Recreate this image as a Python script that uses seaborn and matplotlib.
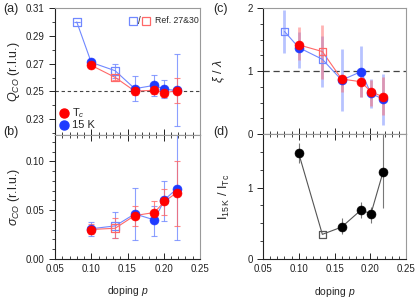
import numpy as np
import pandas as pd
import seaborn as sns
import matplotlib.pyplot as plt
from matplotlib.ticker import MultipleLocator, FixedLocator

# === DATA ===
# doping values (15 K series has an extra reference point at p = 0.08)
p_15k = [0.080, 0.100, 0.133, 0.160, 0.187, 0.201, 0.218]
ref_15k = [True, False, True, False, False, False, False]
p_tc = [0.100, 0.133, 0.160, 0.187, 0.201, 0.218]
ref_tc = [False, True, False, False, False, False]

# (a) Q_CO
q_15k = [0.300, 0.2709, 0.2649, 0.2520, 0.2544, 0.2515, 0.2508]
q_15k_lo = [0.300, 0.2695, 0.2600, 0.2435, 0.2470, 0.2452, 0.2250]
q_15k_hi = [0.300, 0.2723, 0.2694, 0.2610, 0.2618, 0.2580, 0.2767]
q_tc = [0.2688, 0.2601, 0.2503, 0.2508, 0.2491, 0.2505]
q_tc_lo = [0.2676, 0.2582, 0.2478, 0.2484, 0.2460, 0.2416]
q_tc_hi = [0.2700, 0.2620, 0.2528, 0.2532, 0.2520, 0.2594]

# (b) sigma_CO
p_sig_15k = [0.100, 0.133, 0.160, 0.187, 0.201, 0.218]
ref_sig_15k = [False, True, False, False, False, False]
sig_15k = [0.0310, 0.0339, 0.0462, 0.0400, 0.0606, 0.0720]
sig_15k_lo = [0.0236, 0.0212, 0.0195, 0.0236, 0.0393, 0.0195]
sig_15k_hi = [0.0383, 0.0480, 0.0726, 0.0540, 0.0800, 0.1300]
sig_tc = [0.0302, 0.0315, 0.0445, 0.0476, 0.0589, 0.0680]
sig_tc_lo = [0.0260, 0.0212, 0.0342, 0.0365, 0.0450, 0.0342]
sig_tc_hi = [0.0360, 0.0418, 0.0547, 0.0590, 0.0720, 0.0999]

# (c) xi / lambda
xi_15k = [1.628, 1.372, 1.186, 0.856, 0.989, 0.644, 0.553]
xi_15k_lo = [1.28, 1.05, 0.75, 0.37, 0.59, 0.41, 0.15]
xi_15k_hi = [1.97, 1.62, 1.55, 1.35, 1.39, 0.88, 0.96]
xi_tc = [1.415, 1.309, 0.872, 0.830, 0.670, 0.590]
xi_tc_lo = [1.18, 0.88, 0.67, 0.59, 0.45, 0.30]
xi_tc_hi = [1.70, 1.73, 0.94, 0.94, 0.85, 0.90]

# (d) I_15K / I_Tc
p_ratio = [0.100, 0.133, 0.160, 0.187, 0.201, 0.218]
ref_ratio = [False, True, False, False, False, False]
ratio = [1.478, 0.345, 0.447, 0.685, 0.634, 1.221]
ratio_lo = [1.34, 0.345, 0.35, 0.58, 0.50, 0.72]
ratio_hi = [1.62, 0.345, 0.57, 0.80, 0.73, 1.90]

# === STYLE ===
BLUE = "#1f3bff"
RED = "#ff0000"
BLUE_LIGHT = "#7088ff"
RED_LIGHT = "#ff6868"
FONT = "Liberation Sans"
TICK_FS = 7

sns.set_style("ticks")
plt.rcParams["font.family"] = [FONT, "DejaVu Sans"]
plt.rcParams["mathtext.fontset"] = "custom"
plt.rcParams["mathtext.rm"] = FONT
plt.rcParams["mathtext.it"] = FONT + ":italic"
plt.rcParams["mathtext.sf"] = FONT
plt.rcParams["axes.linewidth"] = 0.8

fig = plt.figure(figsize=(4.16, 2.98), dpi=100)
W, H = 416, 298


def make_ax(x0, y_top, x1, y_bot):
    return fig.add_axes([x0 / W, 1 - y_bot / H, (x1 - x0) / W, (y_bot - y_top) / H])


ax_a = make_ax(55, 8, 200, 135)
ax_b = make_ax(55, 135, 200, 259)
ax_c = make_ax(263, 8, 406, 134)
ax_d = make_ax(263, 134, 406, 259)


def style_ax(ax, bottom_labels, top_ticks):
    ax.set_xlim(0.05, 0.25)
    ax.xaxis.set_major_locator(MultipleLocator(0.05))
    ax.xaxis.set_minor_locator(MultipleLocator(0.01))
    ax.tick_params(axis="x", which="both", direction="in", bottom=True, top=top_ticks,
                   labelbottom=bottom_labels, labelsize=TICK_FS, colors="#222222")
    ax.tick_params(axis="x", which="major", length=4, width=0.7)
    ax.tick_params(axis="x", which="minor", length=2.5, width=0.6)
    ax.tick_params(axis="y", which="both", direction="out", left=True, right=False,
                   labelsize=TICK_FS, colors="#222222")
    ax.tick_params(axis="y", which="major", length=4, width=0.7)
    ax.tick_params(axis="y", which="minor", length=2.5, width=0.6)
    for s in ["top", "right"]:
        ax.spines[s].set_visible(True)
        ax.spines[s].set_color("#9a9a9a")
        ax.spines[s].set_linewidth(0.8)
    for s in ["left", "bottom"]:
        ax.spines[s].set_color("#222222")
    if bottom_labels:
        ax.set_xlabel("doping $\\it{p}$", fontsize=7.5)
        ax.xaxis.set_label_coords(0.5, -0.205)


def draw_series(ax, x, y, lo, hi, ref, color, line_color, err_style):
    df = pd.DataFrame({"x": x, "y": y, "lo": lo, "hi": hi, "ref": ref})
    sns.lineplot(data=df, x="x", y="y", ax=ax, color=line_color, lw=0.8,
                 sort=False, estimator=None, zorder=2)
    yerr = [df["y"] - df["lo"], df["hi"] - df["y"]]
    if err_style == "cap":
        ax.errorbar(df["x"], df["y"], yerr=yerr, fmt="none", ecolor=line_color,
                    elinewidth=0.8, capsize=2, capthick=0.8, alpha=0.8, zorder=1)
    elif err_style == "thick":
        ax.errorbar(df["x"], df["y"], yerr=yerr, fmt="none", ecolor=line_color,
                    elinewidth=2, alpha=0.5, zorder=1)
    else:
        ax.errorbar(df["x"], df["y"], yerr=yerr, fmt="none", ecolor="#777777",
                    elinewidth=0.8, zorder=1)
    meas = df[~df["ref"]]
    refs = df[df["ref"]]
    sns.scatterplot(data=meas, x="x", y="y", ax=ax, marker="o", s=42, color=color,
                    edgecolor=color, linewidth=0.4, zorder=4)
    sns.scatterplot(data=refs, x="x", y="y", ax=ax, marker="s", s=30,
                    facecolor="none", edgecolor=line_color, linewidth=0.9, zorder=4)
    ax.set_xlabel("")
    ax.set_ylabel("")


# === (a) ===
draw_series(ax_a, p_15k, q_15k, q_15k_lo, q_15k_hi, ref_15k, BLUE, BLUE_LIGHT, "cap")
draw_series(ax_a, p_tc, q_tc, q_tc_lo, q_tc_hi, ref_tc, RED, RED_LIGHT, "cap")
ax_a.axhline(0.25, color="#444444", lw=0.8, ls=(0, (3, 2.5)), zorder=0)
style_ax(ax_a, False, False)
ax_a.set_ylim(0.2187, 0.31)
ax_a.yaxis.set_major_locator(FixedLocator([0.23, 0.25, 0.27, 0.29, 0.31]))
ax_a.yaxis.set_minor_locator(MultipleLocator(0.01))
ax_a.yaxis.set_major_formatter(plt.FormatStrFormatter("%.2f"))
ax_a.set_ylabel("$Q_{CO}$ (r.l.u.)", fontsize=9)
ax_a.yaxis.set_label_coords(-0.225, 0.5)

# legend (a)
ax_a.plot([0.062], [0.173], "o", ms=6.5, color=RED, transform=ax_a.transAxes, clip_on=False)
ax_a.plot([0.062], [0.079], "o", ms=6.5, color=BLUE, transform=ax_a.transAxes, clip_on=False)
ax_a.text(0.115, 0.173, "T$_c$", fontsize=8, va="center", transform=ax_a.transAxes)
ax_a.text(0.115, 0.079, "15 K", fontsize=8, va="center", transform=ax_a.transAxes)
ax_a.plot([0.536], [0.90], "s", ms=5.5, mfc="none", mec=BLUE_LIGHT, mew=0.9,
          transform=ax_a.transAxes)
ax_a.plot([0.625], [0.90], "s", ms=5.5, mfc="none", mec=RED_LIGHT, mew=0.9,
          transform=ax_a.transAxes)
ax_a.text(0.581, 0.90, "/", fontsize=7, va="center", ha="center", transform=ax_a.transAxes)
ax_a.text(0.69, 0.90, "Ref. 27&30", fontsize=6.3, va="center", transform=ax_a.transAxes)

# === (b) ===
draw_series(ax_b, p_sig_15k, sig_15k, sig_15k_lo, sig_15k_hi, ref_sig_15k, BLUE, BLUE_LIGHT, "cap")
draw_series(ax_b, p_tc, sig_tc, sig_tc_lo, sig_tc_hi, ref_tc, RED, RED_LIGHT, "cap")
style_ax(ax_b, True, True)
ax_b.set_ylim(0, 0.127)
ax_b.yaxis.set_major_locator(FixedLocator([0.0, 0.05, 0.10]))
ax_b.yaxis.set_minor_locator(MultipleLocator(0.01))
ax_b.yaxis.set_major_formatter(plt.FormatStrFormatter("%.2f"))
ax_b.set_ylabel("$\\sigma_{CO}$ (r.l.u.)", fontsize=9)
ax_b.yaxis.set_label_coords(-0.225, 0.5)

# === (c) ===
draw_series(ax_c, p_15k, xi_15k, xi_15k_lo, xi_15k_hi, ref_15k, BLUE, BLUE_LIGHT, "thick")
draw_series(ax_c, p_tc, xi_tc, xi_tc_lo, xi_tc_hi, ref_tc, RED, RED_LIGHT, "thick")
ax_c.axhline(1.0, color="#444444", lw=0.9, ls=(0, (5, 3)), zorder=0)
style_ax(ax_c, False, False)
ax_c.set_ylim(0, 2)
ax_c.yaxis.set_major_locator(MultipleLocator(1))
ax_c.yaxis.set_minor_locator(MultipleLocator(0.25))
ax_c.set_ylabel("$\\xi$ / $\\lambda$", fontsize=9)
ax_c.yaxis.set_label_coords(-0.25, 0.5)

# === (d) ===
draw_series(ax_d, p_ratio, ratio, ratio_lo, ratio_hi, ref_ratio, "black", "#555555", "thin")
style_ax(ax_d, True, True)
ax_d.set_ylim(0, 1.75)
ax_d.yaxis.set_major_locator(MultipleLocator(1))
ax_d.yaxis.set_minor_locator(MultipleLocator(0.25))
ax_d.set_ylabel("I$_{\\mathrm{15\\,K}}$ / I$_{\\mathrm{Tc}}$", fontsize=9)
ax_d.yaxis.set_label_coords(-0.215, 0.5)

# === PANEL LABELS ===
fig.text(3 / W, 1 - 9 / H, "(a)", fontsize=9, va="center")
fig.text(3 / W, 1 - 132 / H, "(b)", fontsize=9, va="center")
fig.text(213 / W, 1 - 9 / H, "(c)", fontsize=9, va="center")
fig.text(213 / W, 1 - 132 / H, "(d)", fontsize=9, va="center")

fig.savefig("out.png", dpi=100)
